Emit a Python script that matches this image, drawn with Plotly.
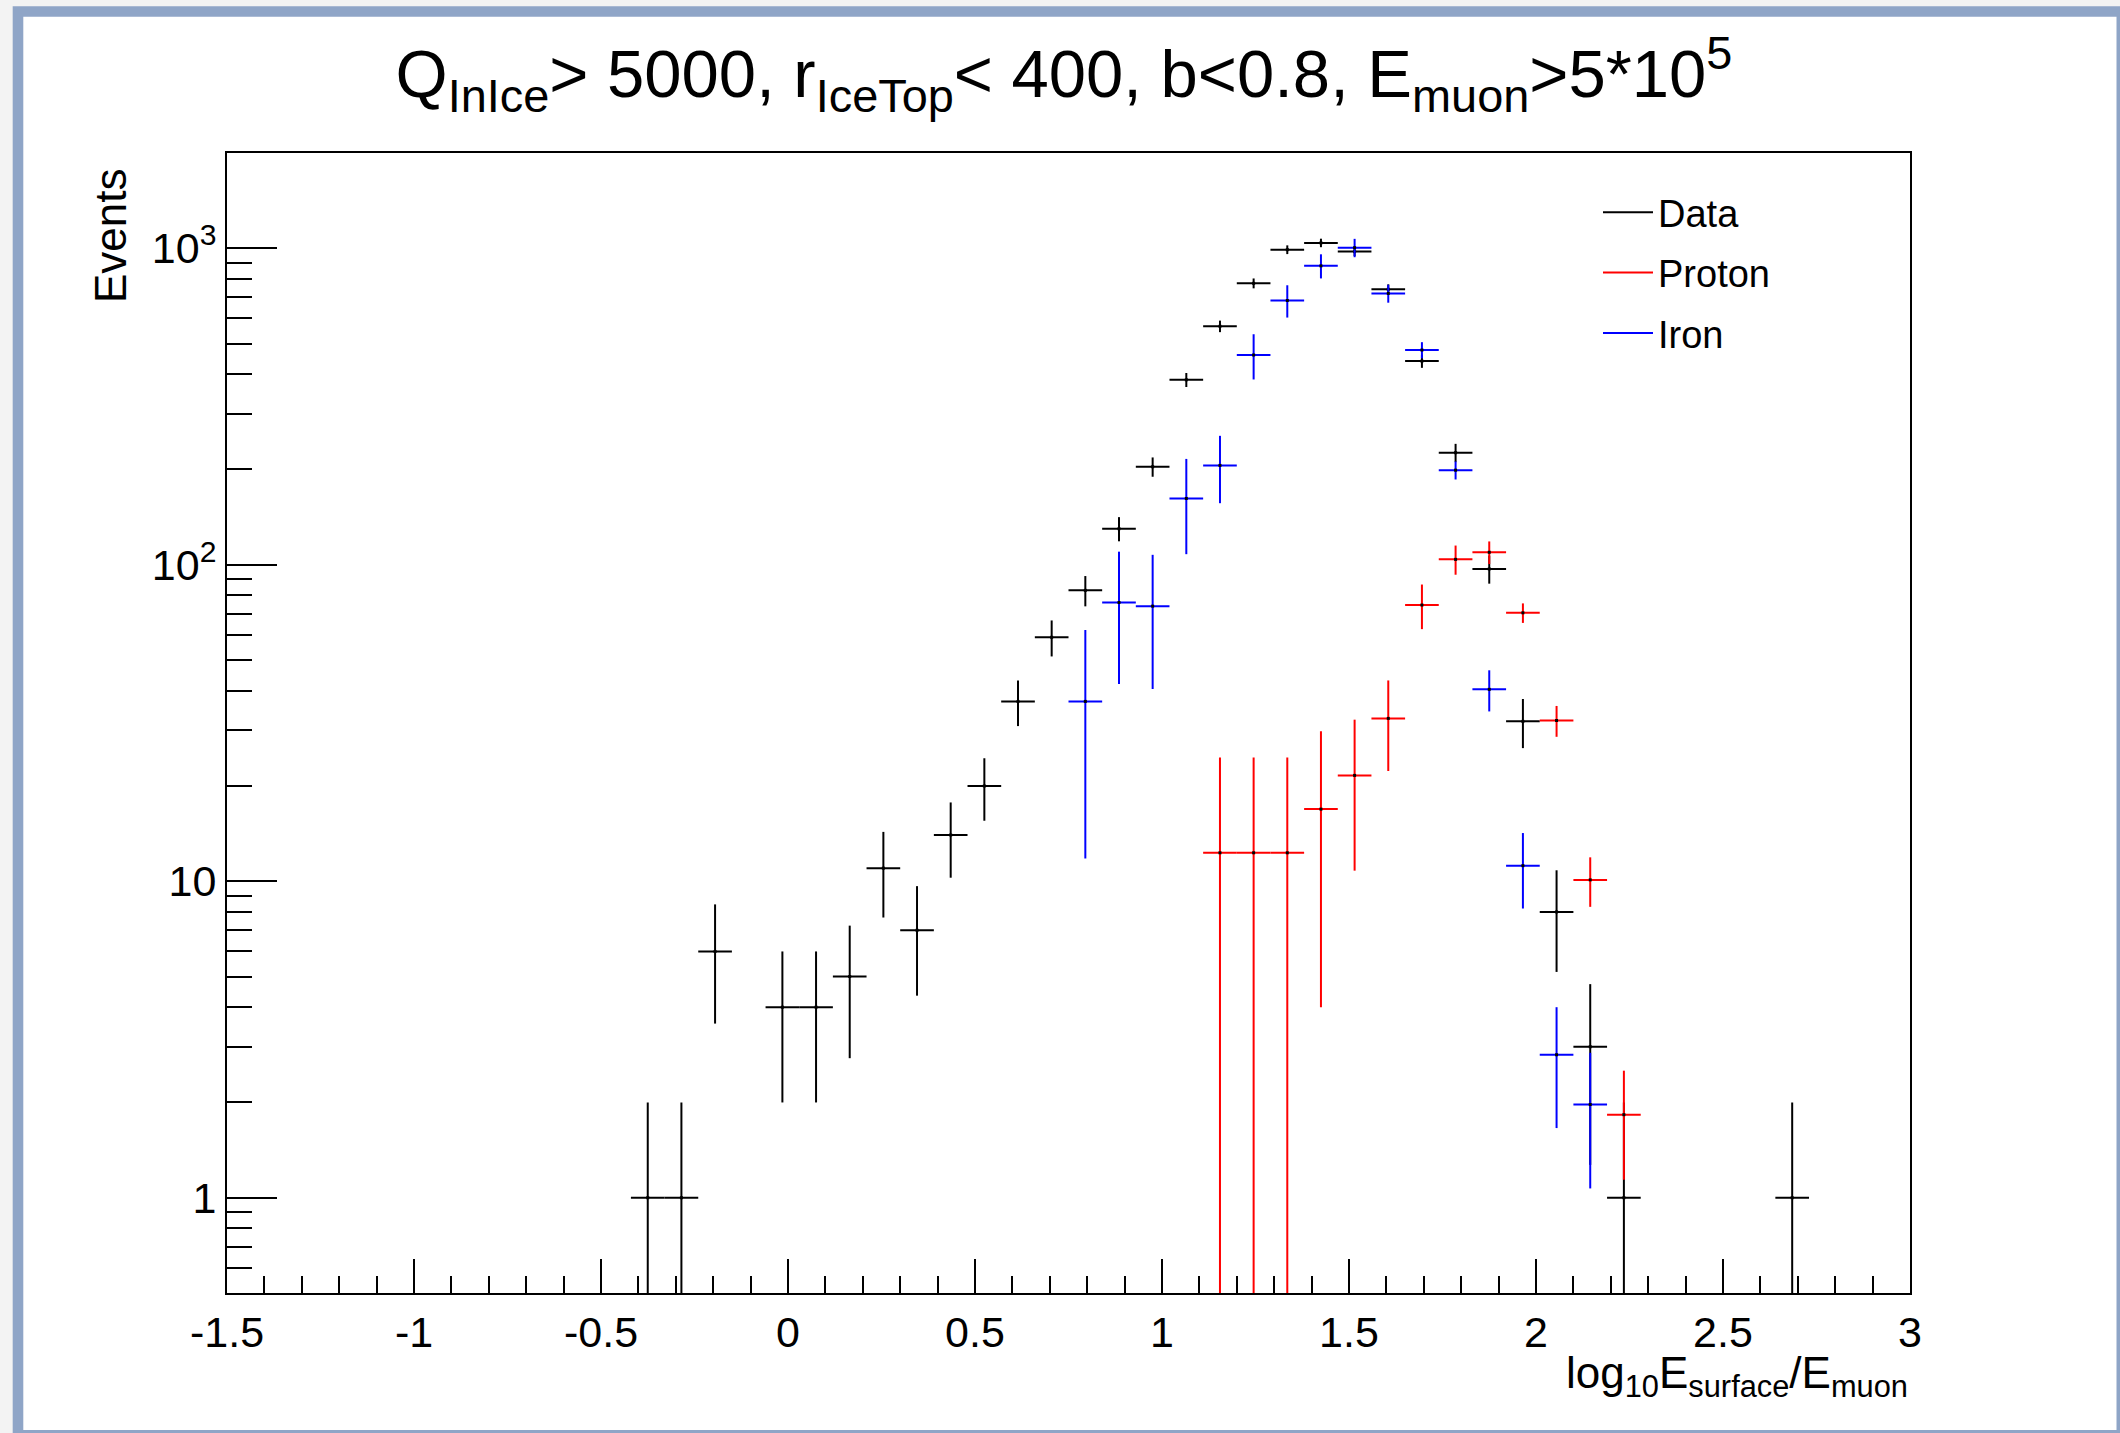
import plotly.graph_objects as go

# ---------------- data ----------------
BIN_WIDTH = 0.09  # histogram bin width in log10(E_surface/E_muon)

data_x = [-0.375, -0.285, -0.195, -0.015, 0.075, 0.165, 0.255, 0.345, 0.435, 0.525,
          0.615, 0.705, 0.795, 0.885, 0.975, 1.065, 1.155, 1.245, 1.335, 1.425,
          1.515, 1.605, 1.695, 1.785, 1.875, 1.965, 2.055, 2.145, 2.235, 2.685]
data_y = [1, 1, 6, 4, 4, 5, 11, 7, 14, 20,
          37, 59, 83, 130, 204, 384, 567, 775, 990, 1040,
          976, 742, 440, 226, 97, 32, 8, 3, 1, 1]
data_err = [1, 1, 2.45, 2, 2, 2.24, 3.32, 2.65, 3.74, 4.47,
            6.08, 7.68, 9.11, 11.4, 14.3, 19.6, 23.8, 27.8, 31.5, 32.2,
            31.2, 27.2, 21.0, 15.0, 9.85, 5.66, 2.83, 1.73, 1, 1]

proton_x = [1.155, 1.245, 1.335, 1.425, 1.515, 1.605, 1.695, 1.785, 1.875, 1.965,
            2.055, 2.145, 2.235]
proton_y = [12.3, 12.3, 12.3, 16.9, 21.6, 32.7, 74.6, 104, 109.5, 70.5,
            32.2, 10.1, 1.83]
proton_err = [12.3, 12.3, 12.3, 12.9, 10.8, 10.4, 12.0, 11.0, 9.0, 5.0,
              3.6, 1.8, 0.69]

iron_x = [0.795, 0.885, 0.975, 1.065, 1.155, 1.245, 1.335, 1.425, 1.515, 1.605,
          1.695, 1.785, 1.875, 1.965, 2.055, 2.145]
iron_y = [37, 76, 74, 162, 206, 460, 684, 880, 1004, 720,
          477, 199, 40.4, 11.2, 2.83, 1.97]
iron_err = [25.2, 34, 33.5, 54, 49.5, 75, 80, 77, 67, 47,
            28, 13, 6.0, 3.0, 1.17, 0.9]

x_tickvals = [-1.5, -1, -0.5, 0, 0.5, 1, 1.5, 2, 2.5, 3]
x_ticktext = ["-1.5", "-1", "-0.5", "0", "0.5", "1", "1.5", "2", "2.5", "3"]
y_tickvals = [1, 10, 100, 1000]
y_ticktext = ["1", "10", "10<sup>2</sup>", "10<sup>3</sup>"]
y_minorvals = [0.6, 0.7, 0.8, 0.9, 2, 3, 4, 5, 6, 7, 8, 9,
               20, 30, 40, 50, 60, 70, 80, 90,
               200, 300, 400, 500, 600, 700, 800, 900, 2000]

series_names = ["Data", "Proton", "Iron"]
series_colors = ["#000000", "#ff0000", "#0000ff"]

# ---------------- geometry ----------------
FIG_W, FIG_H = 2120, 1433
L, R, T, B = 227, 1910, 153, 1293
PW, PH = R - L, B - T
FONT = "Liberation Sans, Arial, Helvetica, sans-serif"


def px_x(px):
    return (px - L) / PW


def px_y(py):
    return (B - py) / PH


fig = go.Figure()


def add_hist(x, y, err, color):
    fig.add_trace(go.Scatter(
        x=x, y=y, mode="markers", showlegend=False, hoverinfo="x+y",
        marker=dict(color="black", size=3, symbol="square"),
        error_x=dict(type="constant", value=BIN_WIDTH / 2, width=0,
                     thickness=2, color=color),
        error_y=dict(type="data", array=err, symmetric=True, width=0,
                     thickness=2, color=color),
    ))


add_hist(data_x, data_y, data_err, series_colors[0])
add_hist(proton_x, proton_y, proton_err, series_colors[1])
add_hist(iron_x, iron_y, iron_err, series_colors[2])

for name, col in zip(series_names, series_colors):
    fig.add_trace(go.Scatter(x=[None], y=[None], mode="lines", name=name,
                             legendgroup=name,
                             line=dict(color=col, width=2)))

title_text = ("Q<sub>InIce</sub>&gt; 5000, r<sub>IceTop</sub>&lt; 400, "
              "b&lt;0.8, E<sub>muon</sub>&gt;5*10<sup>5</sup>")

fig.update_layout(
    width=FIG_W, height=FIG_H,
    margin=dict(l=L, r=FIG_W - R, t=T, b=FIG_H - B, pad=0, autoexpand=False),
    paper_bgcolor="#f3f3f3",
    plot_bgcolor="white",
    font=dict(family=FONT, color="black", size=43),
    title=dict(text=title_text, x=1064 / FIG_W, xanchor="center",
               xref="container", yref="container",
               y=1 - 74 / FIG_H, yanchor="middle",
               font=dict(size=67, family=FONT, color="black")),
    xaxis=dict(range=[-1.5, 3], showgrid=False, zeroline=False,
               showline=True, mirror=True, linecolor="black", linewidth=2,
               ticks="inside", ticklen=34, tickwidth=2, tickcolor="black",
               tickmode="array", tickvals=x_tickvals, ticktext=x_ticktext,
               tickfont=dict(size=43, family=FONT),
               minor=dict(ticks="inside", ticklen=17, tickwidth=2,
                          tickcolor="black", dtick=0.1, tick0=-1.5,
                          showgrid=False)),
    yaxis=dict(type="log", range=[-0.30103, 3.30103], showgrid=False,
               zeroline=False, showline=True, mirror=True,
               linecolor="black", linewidth=2,
               ticks="inside", ticklen=50, tickwidth=2, tickcolor="black",
               tickmode="array", tickvals=y_tickvals, ticktext=y_ticktext,
               tickfont=dict(size=43, family=FONT),
               minor=dict(ticks="inside", ticklen=25, tickwidth=2,
                          tickcolor="black", tickmode="array",
                          tickvals=y_minorvals, showgrid=False)),
    legend=dict(x=px_x(1598), y=px_y(181), xanchor="left", yanchor="top",
                bgcolor="rgba(0,0,0,0)", borderwidth=0,
                font=dict(size=38, family=FONT, color="black"),
                traceorder="grouped", tracegroupgap=8, itemwidth=50),
    shapes=[
        dict(type="rect", xref="paper", yref="paper", layer="below",
             x0=px_x(12.7), x1=px_x(FIG_W + 10), y0=px_y(FIG_H + 10), y1=px_y(6.3),
             fillcolor="#8fa5c7", line=dict(width=0)),
        dict(type="rect", xref="paper", yref="paper", layer="below",
             x0=px_x(23.3), x1=px_x(2116.5), y0=px_y(1430), y1=px_y(16.7),
             fillcolor="white", line=dict(width=0)),
    ],
    annotations=[
        dict(text="Events", xref="paper", yref="paper", x=px_x(110), y=px_y(236),
             xanchor="center", yanchor="middle", textangle=-90, showarrow=False,
             font=dict(size=44, family=FONT, color="black")),
        dict(text="log<sub>10</sub>E<sub>surface</sub>/E<sub>muon</sub>",
             xref="paper", yref="paper", x=1, y=px_y(1346),
             xanchor="right", yanchor="top", showarrow=False,
             font=dict(size=44, family=FONT, color="black")),
    ],
)

fig.write_html("out.html")
